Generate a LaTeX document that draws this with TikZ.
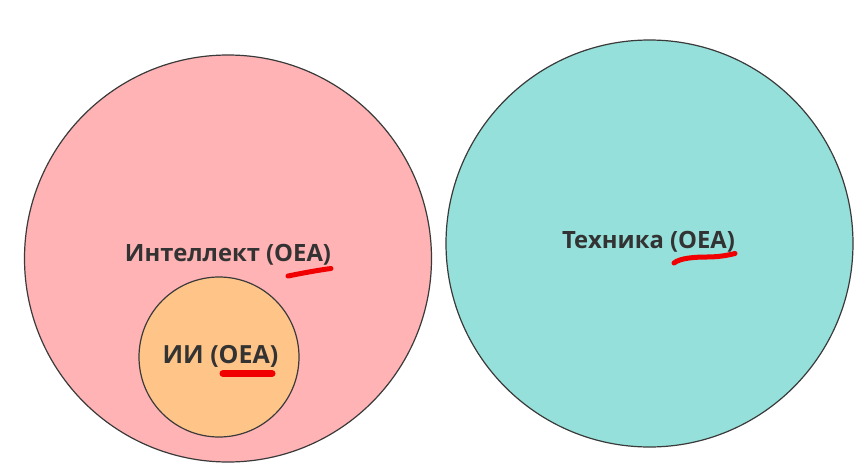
\documentclass[tikz,border=0pt]{standalone}
\usepackage{fontspec}
\setmainfont{Open Sans}
\definecolor{pinkfill}{RGB}{255,179,181}
\definecolor{orangefill}{RGB}{255,196,136}
\definecolor{tealfill}{RGB}{149,224,218}
\definecolor{edgecol}{RGB}{58,58,58}
\definecolor{textcol}{RGB}{51,51,51}
\definecolor{markred}{RGB}{240,0,0}
\begin{document}
\begin{tikzpicture}[x=1pt,y=-1pt,
  setcircle/.style={circle, draw=edgecol, line width=1.2pt, inner sep=0pt},
  label text/.style={text=textcol, font=\bfseries\fontsize{23.8}{28}\selectfont, inner sep=0pt},
  marker/.style={draw=markred, line width=5pt, line cap=round}]
\useasboundingbox (0,0) rectangle (865,471);
\fill[white] (0,0) rectangle (865,471);
\node[setcircle, fill=pinkfill, minimum size=407pt] (intel) at (228,258.5) {};
\node[setcircle, fill=tealfill, minimum size=407pt] (tech) at (649.5,243.5) {};
\node[setcircle, fill=orangefill, minimum size=160pt] (ai) at (219,357) {};
\node[label text] (intellbl) at (228,255) {Интеллект (OEA)};
\node[label text] (techlbl) at (648.5,241.5) {Техника (OEA)};
\node[label text, font=\bfseries\fontsize{25}{30}\selectfont] (ailbl) at (220.5,356) {ИИ (OEA)};
\coordinate (u1a) at (288,276); \coordinate (u1b) at (331,268.5);
\draw[marker] (u1a) .. controls (303,273) and (319,270) .. (u1b);
\coordinate (u2a) at (223,373.5); \coordinate (u2b) at (272,373.5);
\draw[marker, line width=7pt] (u2a) -- (u2b);
\coordinate (u3a) at (674,263); \coordinate (u3m) at (707,257); \coordinate (u3b) at (735,253.5);
\draw[marker] (u3a) .. controls (680,258) and (695,257) .. (u3m) .. controls (716,257) and (725,256) .. (u3b);
\end{tikzpicture}
\end{document}
